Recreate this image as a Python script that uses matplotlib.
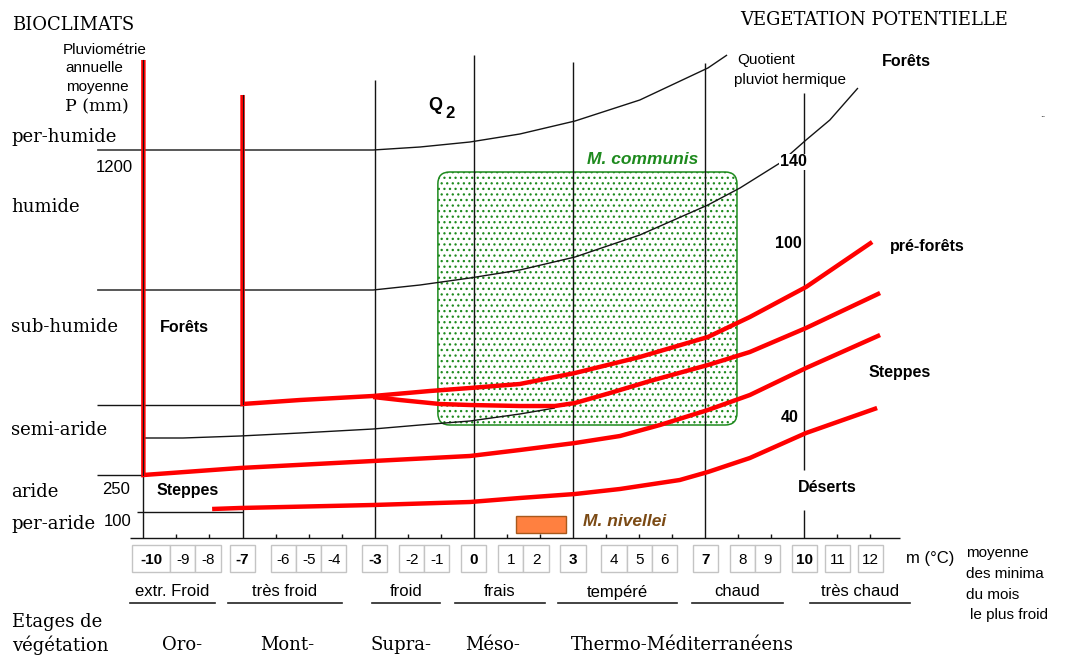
import matplotlib
matplotlib.use("Agg")
import matplotlib.pyplot as plt
from matplotlib.patches import FancyBboxPatch, Rectangle

# ---------------- data ----------------
# x = m (°C), mean minimum of the coldest month ; y = ordinate of the climagram (diagram units)
m_ticks = list(range(-10, 13))
m_major = [-10, -7, -3, 0, 3, 7, 10]
major_tops = [478, 443, 458, 483, 476, 475, 445]
desert_gap = [28, 68]

tick_groups = [[-10, -9, -8], [-7], [-6, -5, -4], [-3], [-2, -1], [0], [1, 2],
               [3], [4, 5, 6], [7], [8, 9], [10], [11], [12]]

thermal_names = ["extr. Froid", "très froid", "froid", "frais", "tempéré", "chaud", "très chaud"]
thermal_lo = [-10.40, -7.44, -3.08, -0.57, 2.54, 6.60, 10.17]
thermal_hi = [-7.83, -3.99, -1.03, 2.15, 6.14, 9.35, 13.19]

etages = ["Oro-", "Mont-", "Supra-", "Méso-", "Thermo-Méditerranéens"]
etages_m = [-8.83, -5.66, -2.21, 0.58, 6.30]

zones = ["per-humide", "humide", "sub-humide", "semi-aride", "aride", "per-aride"]
zones_y = [401, 331, 211, 108, 46, 14]
precip_labels = ["1200", "250", "100"]
precip_y = [371, 48, 16]

# black bioclimatic boundaries (Q2 curves)
perhum_m = [-11.40, -3.05, -1.63, -0.12, 1.39, 3.06, 5.02, 7.08, 7.66]
perhum_y = [388, 388, 391, 396, 404, 417, 438, 470, 483]
humide_m = [-11.40, -3.05, -1.63, -0.12, 1.39, 3.06, 5.02, 7.08, 8.05, 9.26, 10.05, 10.77, 11.62]
humide_y = [248, 248, 253, 260, 268, 281, 303, 333, 350, 375, 398, 418, 450]
semiar_m = [-9.95, -8.80, -7.08, -5.26, -3.05, -1.63, -0.12, 1.39, 2.45]
semiar_y = [100, 100, 102, 105, 109, 113, 117, 124, 130]
# straight boundaries: (m start, m end, y)
flat_lo = [-11.40, -11.40, -10.19]
flat_hi = [-7.0, -10.0, -7.0]
flat_y = [133, 63, 26]

# red vegetation limits
redA_m = [-7.0, -7.0, -5.26, -3.05, -1.33, -0.12, 1.39, 3.06, 5.02, 7.08, 8.35, 10.05, 12.05]
redA_y = [443, 134, 138, 142, 147, 150, 154, 165, 181, 201, 221, 251, 296]
redB_m = [-3.05, -2.24, -1.03, -0.12, 1.39, 2.45, 3.06, 4.12, 5.33, 7.08, 8.35, 10.05, 12.29]
redB_y = [141, 138, 134, 133, 132, 132, 135, 145, 157, 173, 186, 210, 245]
redC_m = [-10.0, -10.0, -7.08, -3.05, -0.12, 1.39, 3.06, 4.42, 5.63, 7.08, 8.35, 10.05, 12.29]
redC_y = [478, 63, 70, 77, 82, 88, 95, 102, 113, 128, 143, 170, 203]
redD_m = [-7.92, -7.08, -3.05, -0.12, 1.39, 3.06, 4.42, 6.23, 7.08, 8.35, 10.05, 12.20]
redD_y = [29, 30, 33, 36, 40, 44, 49, 58, 66, 80, 105, 130]

# species envelopes
communis_m = [-1.09, 7.96]
communis_y = [113, 366]
nivellei_m = [1.27, 2.78]
nivellei_y = [5, 22]

# ---------------- layout ----------------
W, H = 1066, 656
X0, SX, Y0 = 473.9, 33.05, 538


def P(xp, yp):
    return (xp - X0) / SX, Y0 - yp


SERIF = "DejaVu Serif"
SANS = "Liberation Sans"
BLACK = "#141414"
RED = "#ff0000"
GREEN = "#1e8a1e"
plt.rcParams["hatch.linewidth"] = 0.9

fig = plt.figure(figsize=(W / 100, H / 100), dpi=100)
ax = fig.add_axes([0, 0, 1, 1])
ax.set_xlim(-X0 / SX, (W - X0) / SX)
ax.set_ylim(Y0 - H, Y0)
ax.axis("off")


def T(xp, yp, s, **kw):
    x, y = P(xp, yp)
    kw.setdefault("va", "center")
    ax.text(x, y, s, **kw)


blk = dict(color=BLACK, lw=1.0, solid_capstyle="butt", zorder=3)

# species envelopes (under the lines)
cb = FancyBboxPatch((communis_m[0], communis_y[0]), communis_m[1] - communis_m[0],
                    communis_y[1] - communis_y[0],
                    boxstyle="round,pad=0,rounding_size=0.36", mutation_aspect=SX,
                    facecolor="none", edgecolor=GREEN, lw=0, hatch="...", zorder=1)
ax.add_patch(cb)
cb2 = FancyBboxPatch((communis_m[0], communis_y[0]), communis_m[1] - communis_m[0],
                     communis_y[1] - communis_y[0],
                     boxstyle="round,pad=0,rounding_size=0.36", mutation_aspect=SX,
                     facecolor="none", edgecolor=GREEN, lw=1.1, zorder=2)
ax.add_patch(cb2)
ax.add_patch(Rectangle((nivellei_m[0], nivellei_y[0]), nivellei_m[1] - nivellei_m[0],
                       nivellei_y[1] - nivellei_y[0], facecolor="#ff8040",
                       edgecolor="#a8581c", lw=1.0, zorder=2))

# vertical thermal limits
for m, top in zip(m_major, major_tops):
    if m == 10:
        ax.plot([m, m], [0, desert_gap[0]], **blk)
        ax.plot([m, m], [desert_gap[1], top], **blk)
    else:
        ax.plot([m, m], [0, top], **blk)

# axis and minor ticks
ax.plot([-10.40, 12.89], [0, 0], **blk)
for m in m_ticks:
    if m not in m_major:
        ax.plot([m, m], [0, 4], **blk)

# bioclimatic boundaries
ax.plot(perhum_m, perhum_y, **blk)
ax.plot(humide_m, humide_y, **blk)
ax.plot(semiar_m, semiar_y, **blk)
for a, b, y in zip(flat_lo, flat_hi, flat_y):
    ax.plot([a, b], [y, y], **blk)

# red limits
red = dict(color=RED, lw=3.2, solid_joinstyle="miter", solid_capstyle="butt", zorder=4)
for xs, ys in [(redA_m, redA_y), (redB_m, redB_y), (redC_m, redC_y), (redD_m, redD_y)]:
    ax.plot(xs, ys, **red)
ax.plot([-10, -10], [redC_y[1], redC_y[0]], color=BLACK, lw=0.8, zorder=5)
ax.plot([-7, -7], [redA_y[1], redA_y[0]], color=BLACK, lw=0.8, zorder=5)

# tick label boxes
for grp in tick_groups:
    widths = [1.15 if len(str(v)) > 2 else 0.76 for v in grp]
    c = sum(grp) / len(grp)
    x = c - sum(widths) / 2
    for v, w in zip(grp, widths):
        ax.add_patch(Rectangle((x, -34), w, 27, facecolor="white",
                               edgecolor="#c4c4c4", lw=1.0, zorder=2))
        ax.text(x + w / 2, -22, str(v), ha="center", va="center", family=SANS,
                fontsize=11, fontweight="bold" if v in m_major else "normal", zorder=3)
        x += w

# thermal classes
for name, lo, hi in zip(thermal_names, thermal_lo, thermal_hi):
    ax.plot([lo, hi], [-65, -65], color="#222222", lw=1.2)
    ax.text((lo + hi) / 2, -54, name, ha="center", va="center", family=SANS, fontsize=12)

# etages
for name, m in zip(etages, etages_m):
    ax.text(m, -107, name, ha="center", va="center", family=SERIF, fontsize=13)
T(12, 622, "Etages de", family=SERIF, fontsize=13)
T(12, 645, "végétation", family=SERIF, fontsize=13)

# left labels
T(12, 25, "BIOCLIMATS", family=SERIF, fontsize=13)
T(105, 50, "Pluviométrie", family=SANS, fontsize=11, ha="center")
T(94, 68, "annuelle", family=SANS, fontsize=11, ha="center")
T(97, 87, "moyenne", family=SANS, fontsize=11, ha="center")
T(97, 107, "P (mm)", family=SERIF, fontsize=12.5, ha="center")
for name, y in zip(zones, zones_y):
    ax.text(*P(11, 0)[:1], y, name, family=SERIF, fontsize=13, va="center")
for lab, y, xp in zip(precip_labels, precip_y, [114, 116, 118]):
    ax.text(P(xp, 0)[0], y, lab, family=SANS, fontsize=12, ha="center", va="center")

# vegetation labels
bold = dict(family=SANS, fontsize=11.5, fontweight="bold")
T(160, 328, "Forêts", **bold)
T(157, 491, "Steppes", **bold)
T(906, 61, "Forêts", ha="center", **bold)
T(927, 246, "pré-forêts", ha="center", **bold)
T(900, 373, "Steppes", ha="center", **bold)
T(827, 487, "Déserts", ha="center", **bold)
T(793, 162, "140", ha="center", zorder=6,
  bbox=dict(facecolor="white", edgecolor="none", pad=0.5), **bold)
T(788, 243, "100", ha="center", **bold)
T(790, 418, "40", ha="center", **bold)
T(435, 106, "Q", ha="center", family=SANS, fontsize=13, fontweight="bold")
T(450, 114, "2", ha="center", family=SANS, fontsize=12, fontweight="bold")
T(766, 60, "Quotient", ha="center", family=SANS, fontsize=11)
T(790, 80, "pluviot hermique", ha="center", family=SANS, fontsize=11)
T(740, 20, "VEGETATION POTENTIELLE", family=SERIF, fontsize=13)
T(1043, 114, "..", ha="center", family=SANS, fontsize=7)

# species labels
T(643, 160, "M. communis", ha="center", family=SANS, fontsize=12.5,
  fontweight="bold", style="italic", color=GREEN)
T(583, 522, "M. nivellei", ha="left", family=SANS, fontsize=12.5,
  fontweight="bold", style="italic", color="#7b4a14")

# x-axis legend
T(930, 559, "m (°C)", ha="center", family=SANS, fontsize=12)
T(966, 553, "moyenne", family=SANS, fontsize=11)
T(966, 574, "des minima", family=SANS, fontsize=11)
T(966, 595, "du mois", family=SANS, fontsize=11)
T(970, 615, "le plus froid", family=SANS, fontsize=11)

fig.savefig("out.png", dpi=100)
